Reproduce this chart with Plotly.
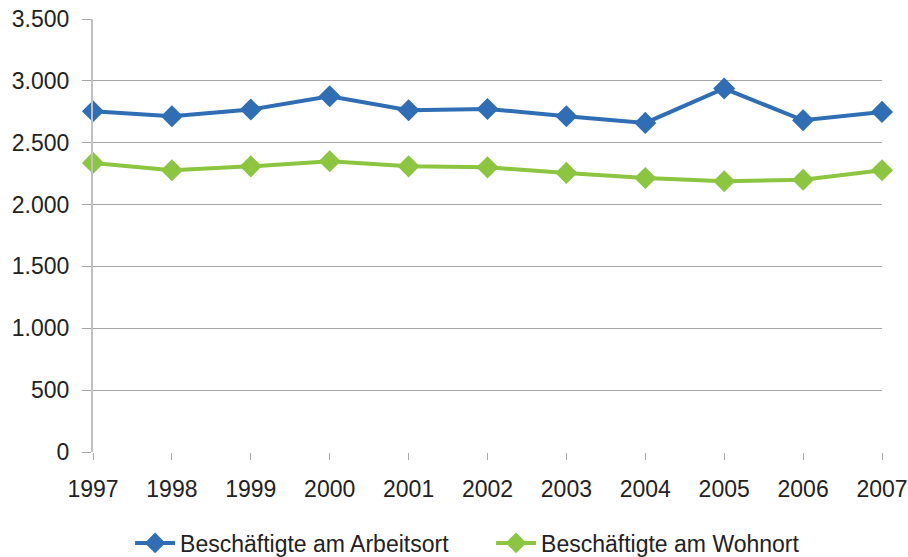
import plotly.graph_objects as go

years = [1997, 1998, 1999, 2000, 2001, 2002, 2003, 2004, 2005, 2006, 2007]
arbeitsort = [2754, 2714, 2768, 2875, 2762, 2773, 2714, 2660, 2938, 2681, 2749]
wohnort = [2337, 2277, 2309, 2350, 2309, 2301, 2256, 2215, 2188, 2201, 2277]
y_ticks = [0, 500, 1000, 1500, 2000, 2500, 3000, 3500]

fig = go.Figure()
fig.add_trace(go.Scatter(
    x=years, y=arbeitsort, name="Beschäftigte am Arbeitsort",
    mode="lines+markers", cliponaxis=False,
    line=dict(color="#2F6DB5", width=4),
    marker=dict(symbol="diamond", size=17, color="#2F6DB5"),
))
fig.add_trace(go.Scatter(
    x=years, y=wohnort, name="Beschäftigte am Wohnort",
    mode="lines+markers", cliponaxis=False,
    line=dict(color="#8CC540", width=4),
    marker=dict(symbol="diamond", size=17, color="#8CC540"),
))

fig.update_layout(
    width=908, height=557,
    margin=dict(l=93, r=26, t=19, b=105, autoexpand=False),
    paper_bgcolor="white", plot_bgcolor="white",
    separators=",.",
    font=dict(family="Liberation Sans, Arial, sans-serif", size=23, color="#222222"),
    showlegend=True,
    legend=dict(orientation="h", x=0.047, xanchor="left", y=-0.21, yanchor="middle",
                font=dict(family="Liberation Sans, Arial, sans-serif", size=23),
                itemwidth=40, tracegroupgap=0,
                entrywidth=306, entrywidthmode="pixels"),
    xaxis=dict(
        range=[1997, 2007], tickmode="array", tickvals=years,
        ticktext=[str(y) for y in years],
        showgrid=False, zeroline=False, automargin=False,
        showline=False, ticks="outside", ticklen=7, tickcolor="#AAAAAA",
        ticklabelstandoff=9,
        tickfont=dict(size=23),
    ),
    yaxis=dict(
        range=[0, 3500], tickmode="array", tickvals=y_ticks,
        tickformat=",d", automargin=False,
        showgrid=True, gridcolor="#A6A6A6", gridwidth=1,
        zeroline=False, showline=True, linecolor="#C0C0C0", linewidth=2,
        ticks="outside", ticklen=9, tickcolor="#A6A6A6",
        ticklabelstandoff=8,
        tickfont=dict(size=23),
    ),
)

fig.write_html(
    "out.html",
    config={"displayModeBar": False},
    post_script="document.body.style.margin='0';document.body.style.overflow='hidden';",
)
